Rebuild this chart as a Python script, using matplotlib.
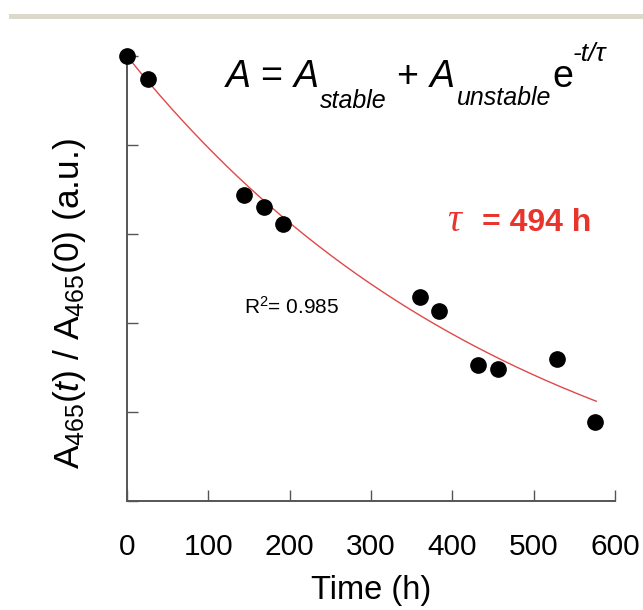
import matplotlib
matplotlib.use("Agg")
import matplotlib.pyplot as plt
import numpy as np
from matplotlib.patches import Rectangle

plt.rcParams["font.family"] = ["Liberation Sans", "DejaVu Sans"]
plt.rcParams["mathtext.fontset"] = "custom"
plt.rcParams["mathtext.rm"] = "Liberation Sans"
plt.rcParams["mathtext.it"] = "Liberation Sans:italic"
plt.rcParams["mathtext.bf"] = "Liberation Sans:bold"

# measured points (normalised absorbance at 465 nm)
time_h = [0, 26, 144, 168, 192, 360, 384, 432, 456, 529, 576]
absorb = [1.000, 0.974, 0.844, 0.830, 0.811, 0.729, 0.713, 0.653, 0.648, 0.659, 0.589]

# fit parameters: A = A_stable + A_unstable * exp(-t / tau)
A_STABLE = 0.437
A_UNSTABLE = 0.563
TAU = 494
FIT_END = 577

XTICKS = [0, 100, 200, 300, 400, 500, 600]
YTICKS = [0.5, 0.6, 0.7, 0.8, 0.9, 1.0]

W, H = 643, 610
fig = plt.figure(figsize=(W / 100, H / 100), dpi=100)
ax = fig.add_axes([127 / W, 109 / H, 488 / W, 445 / H])


def px(x, y):
    """pixel position (from top-left) -> figure fraction"""
    return x / W, (H - y) / H


# thin band at the top of the page
fig.patches.append(Rectangle((9 / W, (H - 19) / H), 1, 5 / H, transform=fig.transFigure,
                             facecolor="#dcd8ca", edgecolor="none"))

t_fit = np.linspace(0, FIT_END, 300)
ax.plot(t_fit, A_STABLE + A_UNSTABLE * np.exp(-t_fit / TAU), color="#e04848", lw=1.0, zorder=2)
ax.plot(time_h, absorb, "o", color="black", ms=11, zorder=3, clip_on=False)

ax.set_xlim(0, 600)
ax.set_ylim(0.5, 1.0)
ax.set_xticks(XTICKS)
ax.set_yticks(YTICKS)
ax.set_yticklabels([])
for s in ["top", "right"]:
    ax.spines[s].set_visible(False)
for s in ["left", "bottom"]:
    ax.spines[s].set_color("#555555")
    ax.spines[s].set_linewidth(1.4)
ax.tick_params(axis="both", direction="in", length=8, width=1.0, color="#555555")
ax.tick_params(axis="x", labelsize=21.5, pad=23)

fig.text(*px(371, 590), "Time (h)", fontsize=23.5, ha="center", va="center")
fig.text(*px(70, 304), r"A$_{465}$($\mathit{t}$) / A$_{465}$(0) (a.u.)",
         fontsize=25.5, rotation=90, ha="center", va="center")

# equation, laid out piece by piece
BIG = 27
fig.text(*px(226, 87), "A", fontsize=BIG, style="italic", va="baseline")
fig.text(*px(271, 87), "=", fontsize=BIG, ha="center", va="baseline")
fig.text(*px(294, 87), "A", fontsize=BIG, style="italic", va="baseline")
fig.text(*px(320, 108), "stable", fontsize=18, style="italic", va="baseline")
fig.text(*px(407, 87), "+", fontsize=BIG, ha="center", va="baseline")
fig.text(*px(430, 87), "A", fontsize=BIG, style="italic", va="baseline")
fig.text(*px(457, 105), "unstable", fontsize=18, style="italic", va="baseline")
fig.text(*px(552, 87), "e", fontsize=BIG, va="baseline")
fig.text(*px(573, 61), "-t/τ", fontsize=19, style="italic", va="baseline")

fig.text(*px(292, 307), r"R$^2$= 0.985", fontsize=15, ha="center", va="center")
fig.text(*px(447, 231), "τ", fontsize=28, color="#e8342c", family="Liberation Serif",
         style="italic", va="baseline")
fig.text(*px(482, 231), "= 494 h", fontsize=23, color="#e8342c", weight="bold",
         va="baseline")

fig.savefig("out.png", dpi=100)
